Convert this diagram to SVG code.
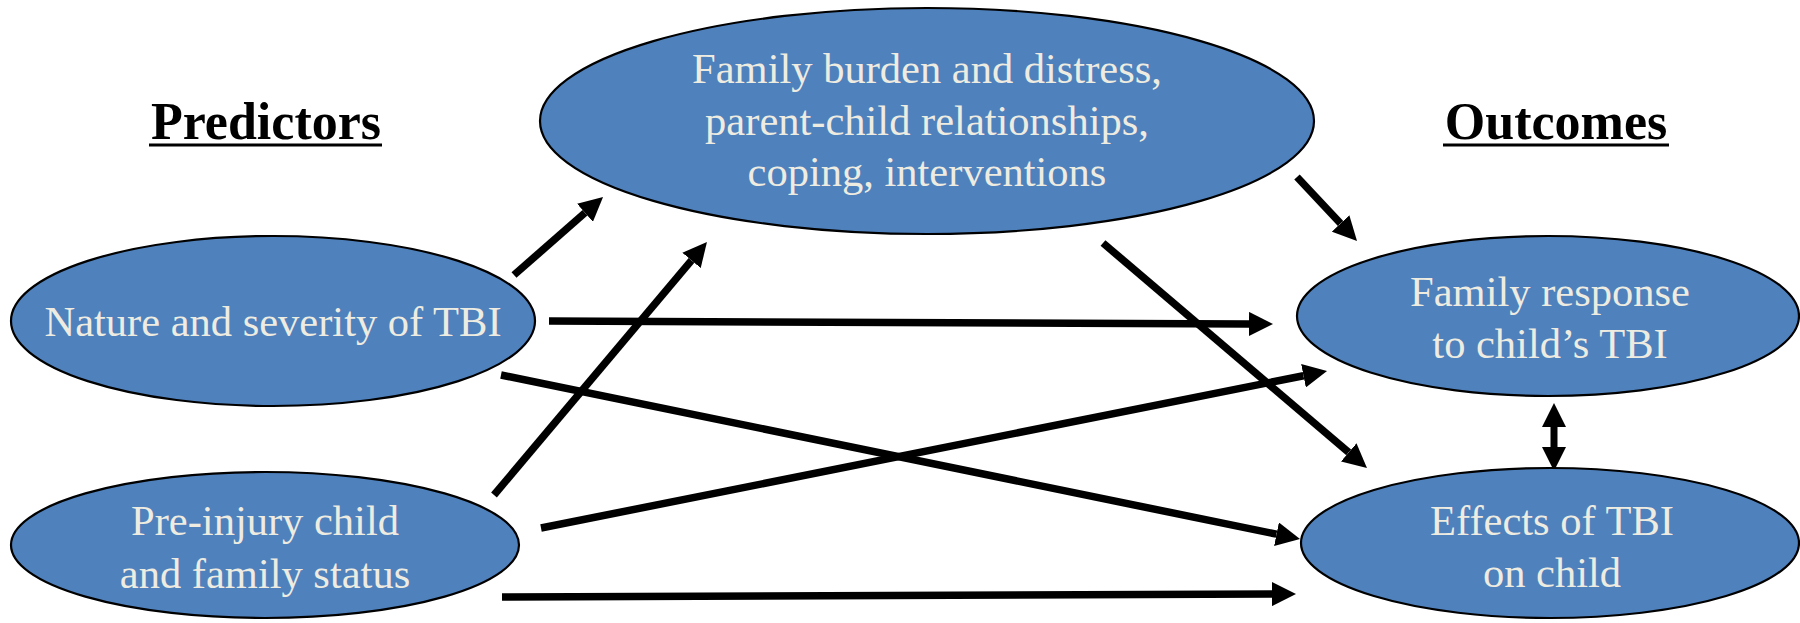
<svg xmlns="http://www.w3.org/2000/svg" width="1800" height="623" viewBox="0 0 1800 623">
  <style>
    .node { fill: #4F81BD; stroke: #000000; stroke-width: 2.2; }
    .label { font-family: "Liberation Serif", "Times New Roman", serif; font-size: 42.5px; fill: #EEECE1; text-anchor: middle; }
    .heading { font-family: "Liberation Serif", "Times New Roman", serif; font-size: 52px; font-weight: bold; fill: #000000; text-anchor: middle; }
    .rule { fill: #000000; }
    .link { stroke: #000000; stroke-width: 7.5; fill: none; marker-end: url(#head); }
    .both { stroke: #000000; stroke-width: 7; fill: none; marker-start: url(#head); marker-end: url(#head); }
  </style>
  <defs>
    <marker id="head" markerUnits="userSpaceOnUse" markerWidth="24" markerHeight="24" refX="0" refY="12" orient="auto-start-reverse">
      <path d="M0,0 L24,12 L0,24 z" fill="#000000"/>
    </marker>
  </defs>
  <rect width="1800" height="623" fill="#FFFFFF"/>

  <!-- column headings -->
  <g id="heading-predictors">
    <text class="heading" x="266" y="139">Predictors</text>
    <rect class="rule" x="149" y="143.5" width="233" height="3"/>
  </g>
  <g id="heading-outcomes">
    <text class="heading" x="1556" y="139">Outcomes</text>
    <rect class="rule" x="1443" y="143.5" width="226" height="3"/>
  </g>

  <!-- connectors -->
  <g id="connectors">
    <line class="link" x1="514" y1="275" x2="585" y2="212.8"/>
    <line class="link" x1="494" y1="495" x2="691.5" y2="260.4"/>
    <line class="link" x1="549" y1="321" x2="1249" y2="323.9"/>
    <line class="link" x1="501" y1="375" x2="1276.5" y2="534.2"/>
    <line class="link" x1="541" y1="528" x2="1303.5" y2="375.7"/>
    <line class="link" x1="502" y1="597" x2="1272" y2="594.1"/>
    <line class="link" x1="1297" y1="177" x2="1340.6" y2="223.5"/>
    <line class="link" x1="1103" y1="243" x2="1348.7" y2="452.4"/>
    <line class="both" x1="1554" y1="427" x2="1554" y2="447"/>
  </g>

  <!-- mediator -->
  <g id="family-burden">
    <ellipse class="node" cx="927" cy="121" rx="387" ry="113"/>
    <text class="label" x="927" y="83">Family burden and distress,</text>
    <text class="label" x="927" y="135">parent-child relationships,</text>
    <text class="label" x="927" y="186">coping, interventions</text>
  </g>

  <!-- predictors -->
  <g id="nature-severity">
    <ellipse class="node" cx="273" cy="321" rx="262" ry="85"/>
    <text class="label" x="273" y="336">Nature and severity of TBI</text>
  </g>
  <g id="pre-injury-status">
    <ellipse class="node" cx="265" cy="545" rx="254" ry="73"/>
    <text class="label" x="265" y="535">Pre-injury child</text>
    <text class="label" x="265" y="588">and family status</text>
  </g>

  <!-- outcomes -->
  <g id="family-response">
    <ellipse class="node" cx="1548" cy="316" rx="251" ry="80"/>
    <text class="label" x="1550" y="306">Family response</text>
    <text class="label" x="1550" y="358">to child’s TBI</text>
  </g>
  <g id="effects-on-child">
    <ellipse class="node" cx="1550" cy="543" rx="249" ry="75"/>
    <text class="label" x="1552" y="535">Effects of TBI</text>
    <text class="label" x="1552" y="587">on child</text>
  </g>
</svg>
